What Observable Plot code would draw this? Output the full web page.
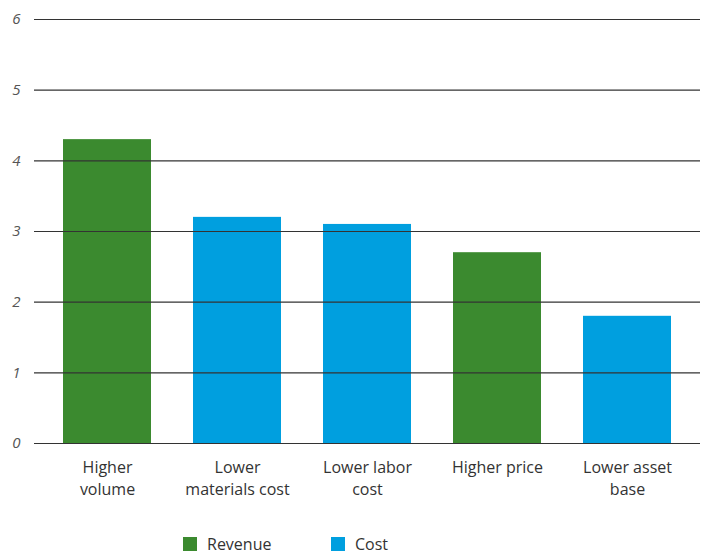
<!DOCTYPE html>
<html>
<head>
<meta charset="utf-8">
<script src="https://cdn.jsdelivr.net/npm/d3@7"></script>
<script src="https://cdn.jsdelivr.net/npm/@observablehq/plot@0.6"></script>
<style>
  html, body { margin: 0; padding: 0; background: #fff; }
  body { width: 708px; height: 557px; overflow: hidden; font-family: "Open Sans", sans-serif; }
  #legend { position: absolute; top: 533px; left: 0; width: 708px; height: 20px; font-size: 16px; color: #333; }
  .item { position: absolute; top: 0; display: flex; align-items: center; }
  .sw { width: 14px; height: 14px; margin-right: 10px; }
</style>
</head>
<body>
<div id="chart"></div>
<div id="legend"></div>
<script>
const categories = ["Higher\nvolume", "Lower\nmaterials cost", "Lower labor\ncost", "Higher price", "Lower asset\nbase"];
const values = [4.3, 3.2, 3.1, 2.7, 1.8];
const types = ["Revenue", "Cost", "Cost", "Revenue", "Cost"];
const seriesNames = ["Revenue", "Cost"];
const seriesColors = ["#3b8a2f", "#009fdf"];
const yTicks = [0, 1, 2, 3, 4, 5, 6];

const data = categories.map((c, i) => ({category: c, value: values[i], type: types[i]}));

const chart = Plot.plot({
  width: 708,
  height: 520,
  marginTop: 19,
  marginBottom: 77,
  marginLeft: 34,
  marginRight: 8,
  style: {fontFamily: "Open Sans, sans-serif", background: "#fff"},
  x: {domain: categories, paddingInner: 0.326, paddingOuter: 0.213, label: null},
  y: {domain: [0, 6], label: null},
  color: {domain: seriesNames, range: seriesColors},
  marks: [
    Plot.barY(data, {x: "category", y: "value", fill: "type"}),
    Plot.ruleY(yTicks, {stroke: "#333", strokeWidth: 1.2}),
    Plot.axisY(yTicks, {tickSize: 0, tickPadding: 14, tickFormat: d3.format("d"), fontSize: 15, fontStyle: "italic", fill: "#555", label: null}),
    Plot.axisX({tickSize: 0, tickPadding: 14, fontSize: 16, lineHeight: 1.375, fill: "#333", label: null})
  ]
});
document.getElementById("chart").appendChild(chart);

const legend = document.getElementById("legend");
const pos = [183, 331];
seriesNames.forEach((name, i) => {
  const item = document.createElement("div");
  item.className = "item";
  item.style.left = pos[i] + "px";
  const sw = document.createElement("div");
  sw.className = "sw";
  sw.style.background = seriesColors[i];
  const t = document.createElement("span");
  t.textContent = name;
  item.appendChild(sw);
  item.appendChild(t);
  legend.appendChild(item);
});
</script>
</body>
</html>
